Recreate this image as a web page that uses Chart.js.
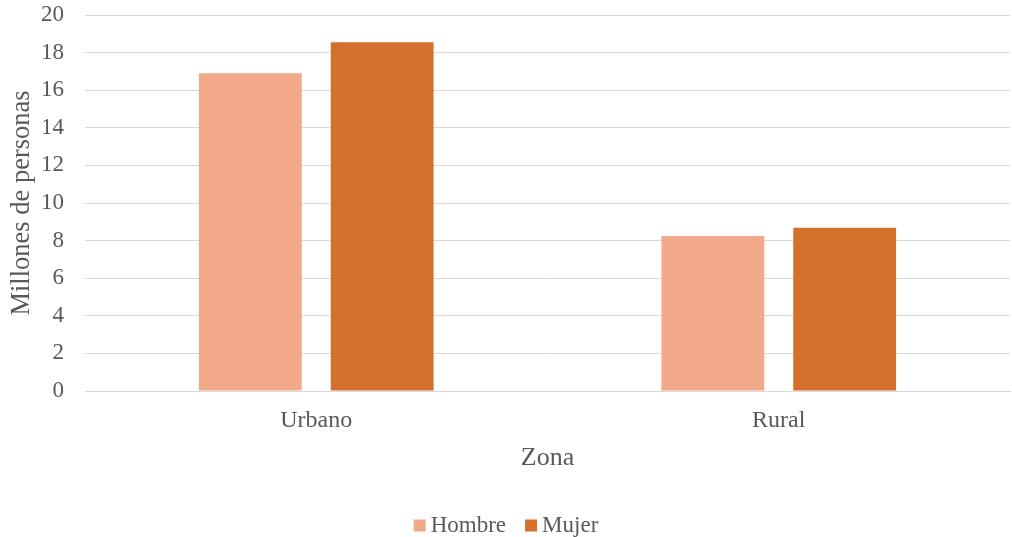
<!DOCTYPE html>
<html>
<head>
<meta charset="utf-8">
<script src="https://cdn.jsdelivr.net/npm/chart.js@4/dist/chart.umd.min.js"></script>
<style>
  html, body { margin: 0; padding: 0; background: #ffffff; }
  #wrap { width: 1012px; height: 537px; }
</style>
</head>
<body>
<div id="wrap"><canvas id="c" width="1012" height="537"></canvas></div>
<script>
// Población por zona y sexo (millones de personas)
const zonas = ['Urbano', 'Rural'];
const hombre = [16.9, 8.25];
const mujer = [18.55, 8.68];
const yTicks = [0, 2, 4, 6, 8, 10, 12, 14, 16, 18, 20];

const fontFamily = '"Liberation Serif", "Times New Roman", serif';
const textColor = '#595959';
const gridColor = '#d9d9d9';

// Compact legend centred under the chart: square swatch, small gap, label
const bottomLegend = {
  id: 'bottomLegend',
  afterDraw(chart) {
    const ctx = chart.ctx;
    const font = '23px ' + fontFamily;
    const box = 12, gapText = 5, gapItem = 19;
    const baseline = 531.5;
    ctx.save();
    ctx.font = font;
    const items = chart.data.datasets.map(ds => ({ text: ds.label, color: ds.backgroundColor, w: ctx.measureText(ds.label).width }));
    const total = items.reduce((s, it) => s + box + gapText + it.w, 0) + gapItem * (items.length - 1);
    let x = (chart.width - total) / 2;
    ctx.textBaseline = 'alphabetic';
    ctx.textAlign = 'left';
    items.forEach(it => {
      ctx.fillStyle = it.color;
      ctx.fillRect(x, baseline - box, box, box);
      x += box + gapText;
      ctx.fillStyle = textColor;
      ctx.fillText(it.text, x, baseline);
      x += it.w + gapItem;
    });
    ctx.restore();
  }
};

new Chart(document.getElementById('c'), {
  type: 'bar',
  data: {
    labels: zonas,
    datasets: [
      { label: 'Hombre', data: hombre, backgroundColor: '#f1a98a', borderWidth: 0 },
      { label: 'Mujer', data: mujer, backgroundColor: '#d4702b', borderWidth: 0 }
    ]
  },
  options: {
    responsive: false,
    animation: false,
    devicePixelRatio: 1,
    layout: { padding: { top: 15, right: 2, left: 0, bottom: 63 } },
    datasets: { bar: { categoryPercentage: 0.57, barPercentage: 0.78 } },
    scales: {
      x: {
        grid: { display: false },
        border: { color: gridColor, width: 1 },
        ticks: { color: textColor, font: { family: fontFamily, size: 24 }, padding: 7 },
        title: { display: true, text: 'Zona', color: textColor, font: { family: fontFamily, size: 26 }, padding: { top: 6, bottom: 0 } },
        afterFit: (s) => { s.paddingLeft = 0; s.paddingRight = 0; s.height = 83; }
      },
      y: {
        min: 0, max: 20,
        afterBuildTicks: (s) => { s.ticks = yTicks.map(v => ({ value: v })); },
        grid: { color: gridColor, lineWidth: 1, drawTicks: false },
        border: { display: false },
        ticks: { color: textColor, font: { family: fontFamily, size: 23 }, padding: 21 },
        title: { display: true, text: 'Millones de personas', color: textColor, font: { family: fontFamily, size: 26.5 }, padding: { top: 6, bottom: 0 } },
        afterFit: (s) => { s.paddingTop = 0; s.paddingBottom = 0; s.width = 85; }
      }
    },
    plugins: {
      legend: { display: false },
      tooltip: { enabled: false }
    }
  },
  plugins: [bottomLegend]
});
</script>
</body>
</html>
